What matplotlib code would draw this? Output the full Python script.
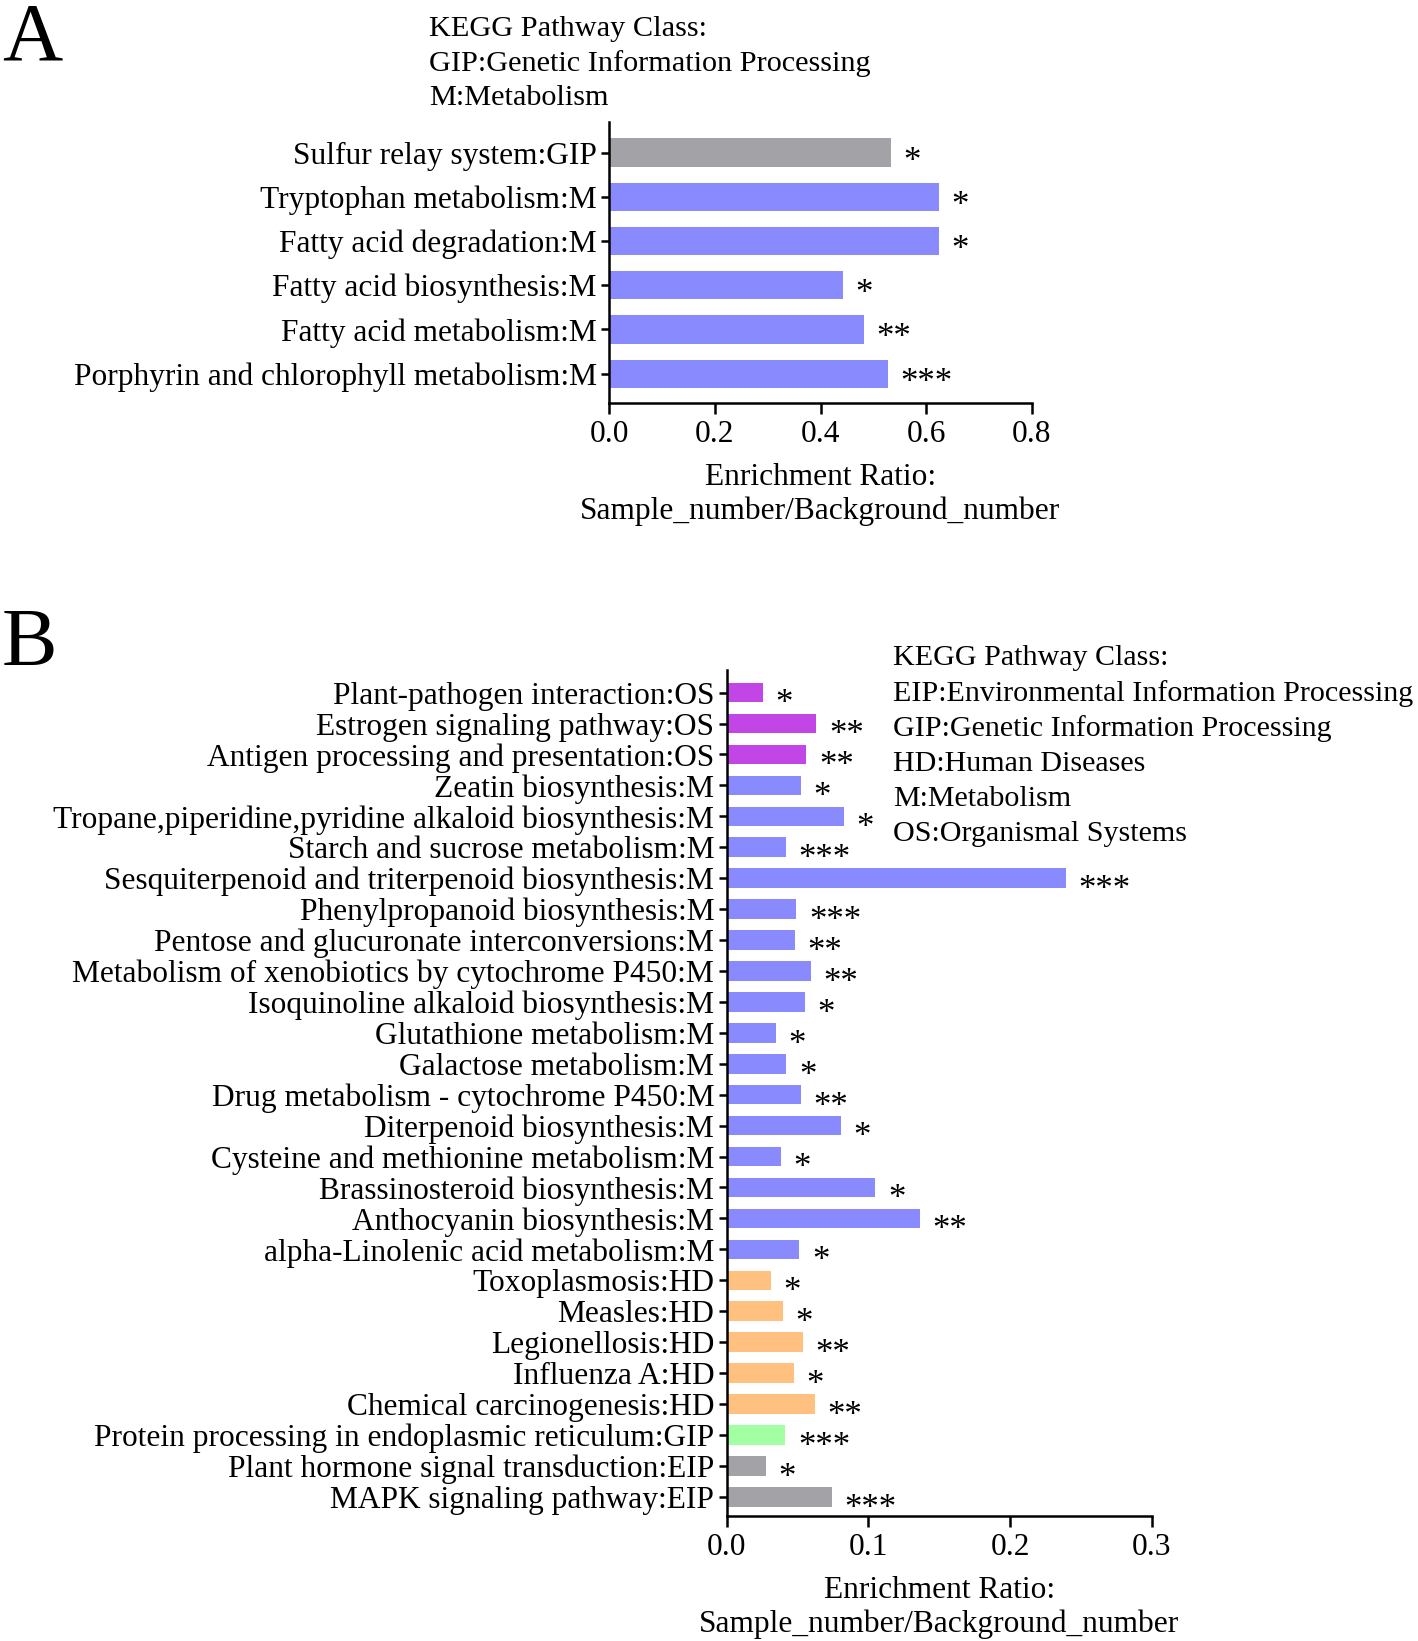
"""KEGG pathway enrichment bars, panels A and B."""
import matplotlib
matplotlib.use('Agg')
import matplotlib.pyplot as plt

plt.rcParams['font.family'] = ['Liberation Serif', 'DejaVu Serif']

W, H = 1418, 1641

# Panel A data (top to bottom)
a_labels = [
    'Sulfur relay system:GIP',
    'Tryptophan metabolism:M',
    'Fatty acid degradation:M',
    'Fatty acid biosynthesis:M',
    'Fatty acid metabolism:M',
    'Porphyrin and chlorophyll metabolism:M',
]
a_values = [0.533, 0.624, 0.624, 0.443, 0.482, 0.527]
a_stars = ['*', '*', '*', '*', '**', '***']
a_class = ['GIP', 'M', 'M', 'M', 'M', 'M']

# Panel B data (top to bottom)
b_labels = [
    'Plant-pathogen interaction:OS',
    'Estrogen signaling pathway:OS',
    'Antigen processing and presentation:OS',
    'Zeatin biosynthesis:M',
    'Tropane,piperidine,pyridine alkaloid biosynthesis:M',
    'Starch and sucrose metabolism:M',
    'Sesquiterpenoid and triterpenoid biosynthesis:M',
    'Phenylpropanoid biosynthesis:M',
    'Pentose and glucuronate interconversions:M',
    'Metabolism of xenobiotics by cytochrome P450:M',
    'Isoquinoline alkaloid biosynthesis:M',
    'Glutathione metabolism:M',
    'Galactose metabolism:M',
    'Drug metabolism - cytochrome P450:M',
    'Diterpenoid biosynthesis:M',
    'Cysteine and methionine metabolism:M',
    'Brassinosteroid biosynthesis:M',
    'Anthocyanin biosynthesis:M',
    'alpha-Linolenic acid metabolism:M',
    'Toxoplasmosis:HD',
    'Measles:HD',
    'Legionellosis:HD',
    'Influenza A:HD',
    'Chemical carcinogenesis:HD',
    'Protein processing in endoplasmic reticulum:GIP',
    'Plant hormone signal transduction:EIP',
    'MAPK signaling pathway:EIP',
]
b_values = [0.0254, 0.0633, 0.0562, 0.0524, 0.0830, 0.0419, 0.2397, 0.0492,
            0.0482, 0.0597, 0.0553, 0.0348, 0.0421, 0.0522, 0.0807, 0.0383,
            0.1049, 0.1362, 0.0513, 0.0313, 0.0395, 0.0536, 0.0473, 0.0621,
            0.0414, 0.0277, 0.0745]
b_stars = ['*', '**', '**', '*', '*', '***', '***', '***', '**', '**', '*',
           '*', '*', '**', '*', '*', '*', '**', '*', '*', '*', '**', '*',
           '**', '***', '*', '***']
b_class = ['OS'] * 3 + ['M'] * 16 + ['HD'] * 5 + ['GIP'] + ['EIP'] * 2

class_colors = {
    'GIP_A': '#a2a2a7',
    'M': '#8a8aff',
    'OS': '#c246e6',
    'HD': '#ffc080',
    'GIP': '#a2ffa2',
    'EIP': '#a2a2a7',
}

FS = 22.6
STAR_FS = 25


def fx(px):
    return px / W


def fy(py):
    return 1 - py / H


def style_axis(ax):
    for s in ['top', 'right']:
        ax.spines[s].set_visible(False)
    for s in ['left', 'bottom']:
        ax.spines[s].set_linewidth(1.8)
    ax.tick_params(axis='y', length=6, width=1.8, pad=3, labelsize=FS)
    ax.tick_params(axis='x', length=8, width=1.8, pad=4, labelsize=FS)


def draw_panel(ax, labels, values, stars, colors, xmax, xticks, ylim,
               height, star_dy):
    y = list(range(len(labels)))
    ax.barh(y, values, height=height, color=colors, edgecolor='none')
    for yi, v, s in zip(y, values, stars):
        ax.annotate(s, (v, yi), xytext=(9, star_dy), textcoords='offset points',
                    ha='left', va='baseline', fontsize=STAR_FS)
    ax.set_yticks(y)
    ax.set_yticklabels(labels)
    ax.set_ylim(*ylim)
    ax.set_xlim(0, xmax)
    ax.set_xticks(xticks)
    ax.set_xticklabels([f'{t:.1f}' for t in xticks])
    ax.set_xlabel('Enrichment Ratio:\nSample_number/Background_number',
                  fontsize=FS, linespacing=1.22, labelpad=10)
    style_axis(ax)


fig = plt.figure(figsize=(W / 100, H / 100), dpi=100)

# Panel A
axA = fig.add_axes([fx(609.3), fy(403.3), fx(1031.7 - 609.3), (403.3 - 122) / H])
colA = [class_colors['GIP_A'] if c == 'GIP' else class_colors[c] for c in a_class]
draw_panel(axA, a_labels, a_values, a_stars, colA, 0.8,
           [0.0, 0.2, 0.4, 0.6, 0.8], (5.67, -0.69), 0.64, -13)

# Panel B
axB = fig.add_axes([fx(726.7), fy(1516), fx(1151.7 - 726.7), (1516 - 670) / H])
colB = [class_colors[c] for c in b_class]
draw_panel(axB, b_labels, b_values, b_stars, colB, 0.3,
           [0.0, 0.1, 0.2, 0.3], (26.62, -0.73), 0.63, -15)

# Panel letters
fig.text(fx(2), fy(60), 'A', fontsize=60, va='baseline', ha='left')
fig.text(fx(2), fy(665), 'B', fontsize=60, va='baseline', ha='left')

# Class keys
legA = ['KEGG Pathway Class:',
        'GIP:Genetic Information Processing',
        'M:Metabolism']
for i, t in enumerate(legA):
    fig.text(fx(429), fy(29 + i * 34.5), t, fontsize=21.8, va='center', ha='left')

legB = ['KEGG Pathway Class:',
        'EIP:Environmental Information Processing',
        'GIP:Genetic Information Processing',
        'HD:Human Diseases',
        'M:Metabolism',
        'OS:Organismal Systems']
for i, t in enumerate(legB):
    fig.text(fx(893), fy(658 + i * 35.3), t, fontsize=21.6, va='center', ha='left')

fig.savefig('out.png', dpi=100)
